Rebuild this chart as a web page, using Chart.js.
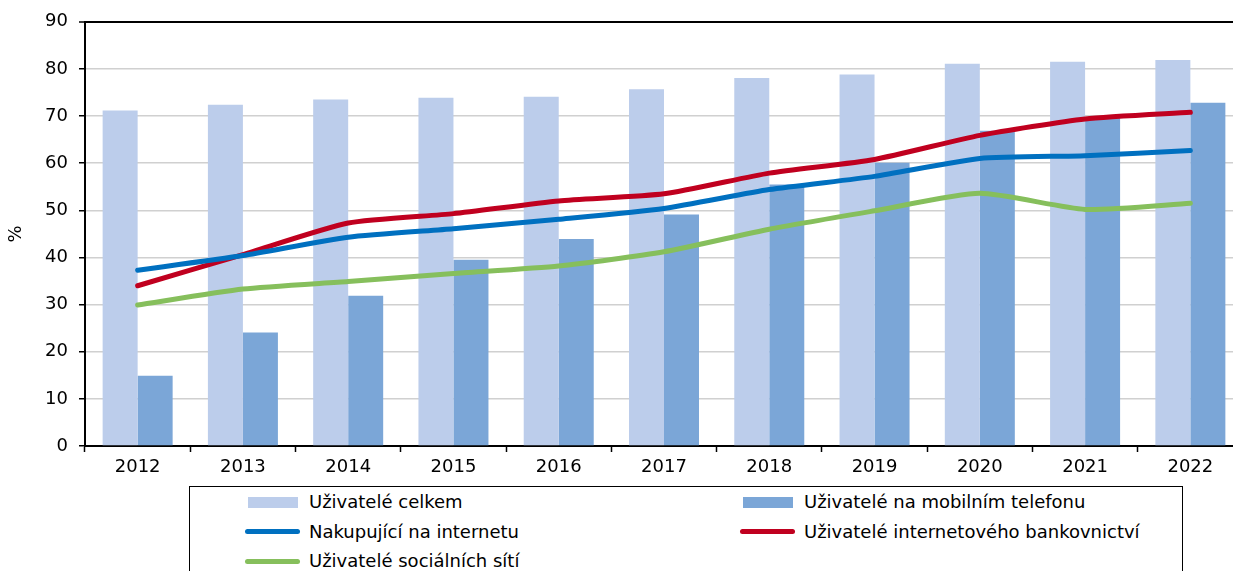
<!DOCTYPE html>
<html>
<head>
<meta charset="utf-8">
<script src="https://cdn.jsdelivr.net/npm/chart.js@4.4.1/dist/chart.umd.min.js"></script>
<style>
  html, body { margin: 0; padding: 0; background: #fff; overflow: hidden; width: 1233px; height: 571px; }
  #wrap { position: absolute; left: 0; top: 0; width: 1245px; height: 571px; }
  #legend { position: absolute; left: 189px; top: 486px; width: 994px; height: 120px; border: 1.5px solid #000; box-sizing: border-box; background: #fff;
    font-family: "DejaVu Sans", sans-serif; font-size: 18px; color: #000; }
  .item { position: absolute; height: 24px; line-height: 24px; white-space: nowrap; }
  .sw { position: absolute; }
  .txt { position: absolute; top: 0; }
</style>
</head>
<body>
<div id="wrap"><canvas id="c" width="1245" height="571"></canvas></div>
<div id="legend"></div>
<script>
const years = ['2012','2013','2014','2015','2016','2017','2018','2019','2020','2021','2022'];
const uzivateleCelkem = [71.2, 72.4, 73.5, 73.9, 74.1, 75.7, 78.1, 78.8, 81.1, 81.5, 81.9];
const uzivateleMobil = [14.9, 24.1, 31.9, 39.5, 43.9, 49.1, 55.5, 60.1, 66.9, 69.6, 72.8];
const nakupujici = [37.3, 40.4, 44.3, 46.1, 48.1, 50.4, 54.4, 57.2, 61.0, 61.6, 62.7];
const bankovnictvi = [34.0, 40.6, 47.3, 49.3, 52.0, 53.5, 57.9, 60.8, 65.9, 69.4, 70.8];
const socialniSite = [29.9, 33.3, 34.9, 36.6, 38.2, 41.2, 46.0, 49.9, 53.6, 50.2, 51.5];
const yTicks = [0, 10, 20, 30, 40, 50, 60, 70, 80, 90];

const FONT = { family: '"DejaVu Sans", sans-serif', size: 18 };

const lineDs = (label, data, color) => ({
  type: 'line', label, data, borderColor: color, backgroundColor: color,
  borderWidth: 5, pointRadius: 0, tension: 0.2, borderCapStyle: 'round', borderJoinStyle: 'round',
  order: 0, fill: false
});

const chart = new Chart(document.getElementById('c'), {
  type: 'bar',
  data: {
    labels: years,
    datasets: [
      { type: 'bar', label: 'Uživatelé celkem', data: uzivateleCelkem, backgroundColor: '#BCCDEB', order: 2,
        categoryPercentage: 0.665, barPercentage: 1.0 },
      { type: 'bar', label: 'Uživatelé na mobilním telefonu', data: uzivateleMobil, backgroundColor: '#7BA6D7', order: 2,
        categoryPercentage: 0.665, barPercentage: 1.0 },
      lineDs('Nakupující na internetu', nakupujici, '#0070C0'),
      lineDs('Uživatelé internetového bankovnictví', bankovnictvi, '#C0001F'),
      lineDs('Uživatelé sociálních sítí', socialniSite, '#86BF5C')
    ]
  },
  options: {
    responsive: false,
    animation: false,
    devicePixelRatio: 1,
    layout: { padding: { top: 20, right: 2, bottom: 0, left: 0 } },
    plugins: { legend: { display: false }, tooltip: { enabled: false } },
    scales: {
      x: {
        type: 'category',
        offset: true,
        grid: { offset: true, drawOnChartArea: false, drawTicks: true, tickLength: 6, tickColor: '#000', tickWidth: 1.5 },
        border: { display: true, color: '#000', width: 2 },
        ticks: { color: '#000', font: FONT, padding: 5, maxRotation: 0, autoSkip: false },
        afterFit: (s) => { s.height = 125; }
      },
      y: {
        min: 0, max: 90,
        afterBuildTicks: (s) => { s.ticks = yTicks.map(v => ({ value: v })); },
        grid: {
          color: (ctx) => (ctx.tick && ctx.tick.value === 90) ? '#000' : '#D0D0D0',
          lineWidth: (ctx) => (ctx.tick && ctx.tick.value === 90) ? 2 : 1.5,
          drawTicks: true, tickLength: 6, tickColor: '#000', tickWidth: 1.5
        },
        border: { display: true, color: '#000', width: 2 },
        ticks: { color: '#000', font: FONT, padding: 11 },
        title: { display: true, text: '%', color: '#000', font: FONT, padding: { top: 6, bottom: 0 } },
        afterFit: (s) => { s.width = 85; }
      }
    }
  }
});

// HTML legend built from the chart datasets
const legend = document.getElementById('legend');
const colX = [58, 553];     // swatch left, relative to legend box
const rowY = [3, 32.5, 62]; // item top, relative to legend box
chart.data.datasets.forEach((ds, i) => {
  const col = i % 2, row = Math.floor(i / 2);
  const it = document.createElement('div');
  it.className = 'item';
  it.style.left = colX[col] + 'px';
  it.style.top = rowY[row] + 'px';
  const sw = document.createElement('div');
  sw.className = 'sw';
  if (ds.type === 'bar') {
    sw.style.cssText = `left:0;top:7px;width:50px;height:11px;background:${ds.backgroundColor};`;
  } else {
    sw.style.cssText = `left:-3px;top:9.5px;width:55px;height:5px;border-radius:3px;background:${ds.borderColor};`;
  }
  const tx = document.createElement('div');
  tx.className = 'txt';
  tx.style.left = '61px';
  tx.textContent = ds.label;
  it.appendChild(sw); it.appendChild(tx);
  legend.appendChild(it);
});
</script>
</body>
</html>
